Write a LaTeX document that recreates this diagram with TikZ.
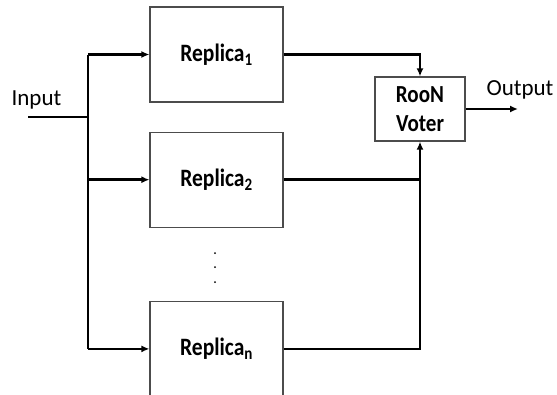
\documentclass[tikz,border=0pt]{standalone}
\usepackage{fontspec}
\setmainfont{Carlito}
\usetikzlibrary{positioning, arrows.meta, calc}
\newcommand{\narrow}[1]{\scalebox{0.86}[1]{#1}}
\tikzset{
  replica/.style={draw=black!70, line width=1.2pt, fill=white, minimum width=133pt, minimum height=95pt, inner sep=0pt, font=\fontsize{25}{27}\selectfont\bfseries},
  voter/.style={replica, minimum width=90pt, minimum height=64pt, align=center, font=\fontsize{24.5}{29}\selectfont\bfseries},
  lbl/.style={inner sep=0pt, font=\fontsize{23}{26}\selectfont},
  wire/.style={line width=2.6pt},
  arr/.style={wire, -{Latex[length=8pt, width=7pt]}}
}
\begin{document}
\begin{tikzpicture}[x=1pt, y=-1pt]
\useasboundingbox (0,0) rectangle (557,394);
\node[replica] (rep1) at (216.5,54.5) {\narrow{Replica\textsubscript{1}}};
\node[replica, below=29pt of rep1] (rep2) {\narrow{Replica\textsubscript{2}}};
\node[replica, below=73pt of rep2] (repn) {\narrow{Replica\textsubscript{n}}};
\node[voter] (voter) at (420,109) {\narrow{RooN}\\\narrow{Voter}};
\node[lbl, anchor=base] (inlbl) at (36.5,105) {Input};
\node[lbl, anchor=base] (outlbl) at (520,95) {Output};
\coordinate (in) at (28,117);
\coordinate (split) at (88,117);
\coordinate (out) at (518,109);
% input side
\draw[wire] (in) -- (split);
\draw[wire] (split |- rep1.west) -- (split |- repn.west);
\draw[arr] (split |- rep1.west) -- (rep1.west);
\draw[arr] (split |- rep2.west) -- (rep2.west);
\draw[arr] (split |- repn.west) -- (repn.west);
% voter side
\draw[arr] (rep1.east) -| (voter.north);
\draw[wire] (rep2.east) -- (rep2.east -| voter.south);
\draw[arr] (repn.east) -| (voter.south);
\draw[arr] (voter.east) -- (out);
\foreach \y in {253,267,282} \fill (215,\y) circle (1pt);
\end{tikzpicture}
\end{document}
